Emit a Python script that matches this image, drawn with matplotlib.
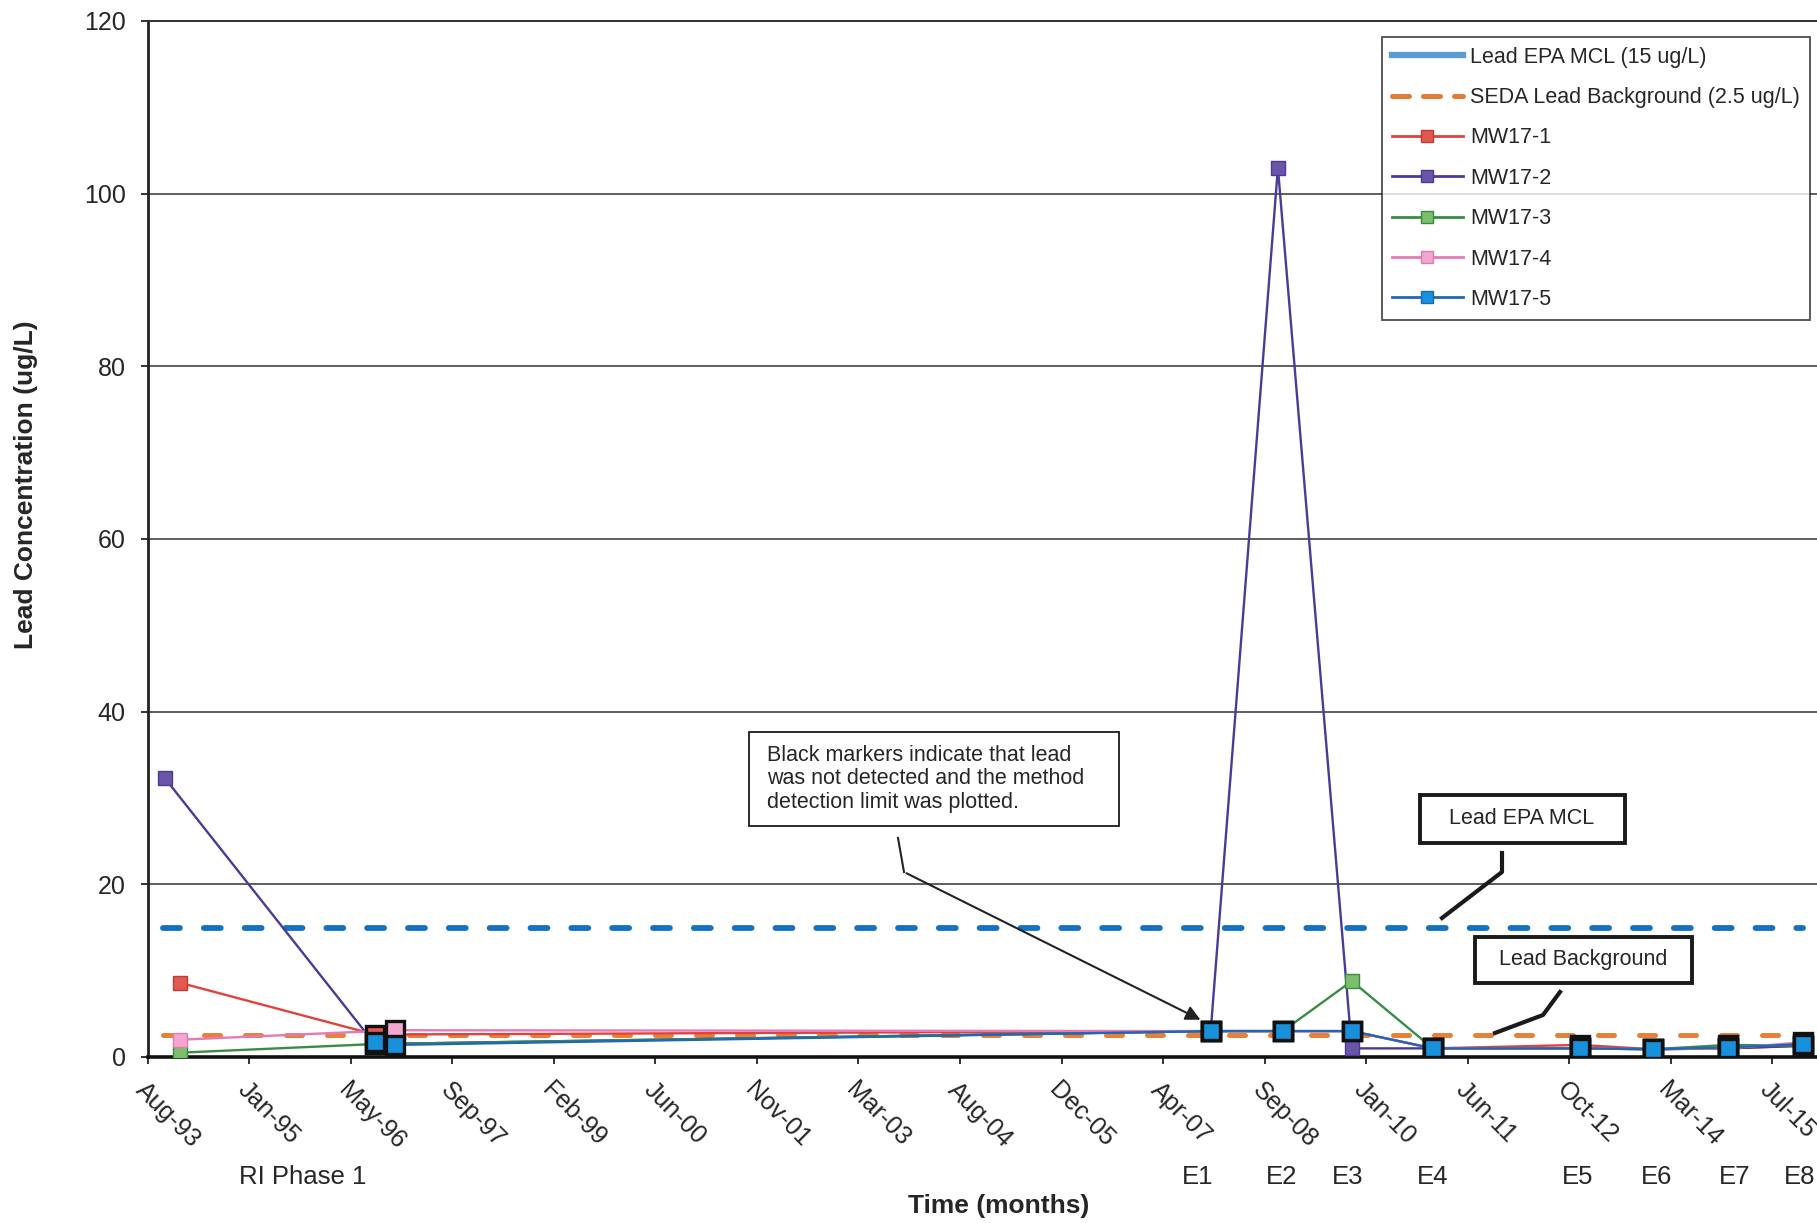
import matplotlib
matplotlib.use('Agg')
import matplotlib.pyplot as plt
import matplotlib.transforms as mtransforms
from matplotlib.lines import Line2D
from matplotlib.patches import Rectangle, FancyArrowPatch
import numpy as np
import pandas as pd

plt.rcParams['font.family'] = ['Liberation Sans', 'DejaVu Sans']
TXT = '#262626'

# ---------------- data ----------------
axis_start = '1993-08-20'
tick_step_days = 500
axis_span_days = 8300
tick_labels = ['Aug-93', 'Jan-95', 'May-96', 'Sep-97', 'Feb-99', 'Jun-00', 'Nov-01',
               'Mar-03', 'Aug-04', 'Dec-05', 'Apr-07', 'Sep-08', 'Jan-10', 'Jun-11',
               'Oct-12', 'Mar-14', 'Jul-15']
y_ticks = [0, 20, 40, 60, 80, 100, 120]

mcl_value = 15.0
bg_value = 2.5
ref_line_dates = ['1993-11-01', '2015-12-15']

mw17_1_dates = ['1994-01-24', '1996-09-10', '2007-12-20', '2008-12-09', '2009-11-14',
                '2010-12-18', '2012-12-11', '2013-12-06', '2014-12-10', '2015-12-15']
mw17_1_values = [8.6, 2.6, 3.0, 3.0, 3.0, 1.0, 1.4, 0.9, 1.0, 1.3]
mw17_1_nd = [0, 1, 1, 1, 1, 1, 1, 1, 1, 1]

mw17_2_dates = ['1993-11-11', '1996-09-10', '2007-12-20', '2008-11-15', '2009-11-14',
                '2010-12-18', '2012-12-11', '2013-12-06', '2014-12-10', '2015-12-15']
mw17_2_values = [32.3, 1.5, 3.0, 103.0, 1.0, 1.0, 1.0, 0.9, 1.0, 1.3]
mw17_2_nd = [0, 1, 1, 0, 0, 1, 1, 1, 1, 1]

mw17_3_dates = ['1994-01-24', '1996-09-10', '2007-12-20', '2008-12-09', '2009-11-14',
                '2010-12-18', '2012-12-11', '2013-12-06', '2014-12-10', '2015-12-15']
mw17_3_values = [0.5, 1.5, 3.0, 3.0, 8.8, 1.0, 1.0, 0.9, 1.4, 1.3]
mw17_3_nd = [0, 1, 1, 1, 0, 1, 1, 1, 1, 1]

mw17_4_dates = ['1994-01-24', '1996-12-18', '2007-12-20', '2008-12-09', '2009-11-14',
                '2010-12-18', '2012-12-11', '2013-12-06', '2014-12-10', '2015-12-15']
mw17_4_values = [2.0, 3.1, 3.0, 3.0, 3.0, 1.0, 1.0, 0.9, 1.0, 1.7]
mw17_4_nd = [0, 1, 1, 1, 1, 1, 1, 1, 1, 1]

mw17_5_dates = ['1996-09-10', '1996-12-18', '2007-12-20', '2008-12-09', '2009-11-14',
                '2010-12-18', '2012-12-11', '2013-12-06', '2014-12-10', '2015-12-15']
mw17_5_values = [1.7, 1.4, 3.0, 3.0, 3.0, 1.0, 1.0, 0.9, 1.1, 1.5]
mw17_5_nd = [1, 1, 1, 1, 1, 1, 1, 1, 1, 1]

series_names = ['MW17-1', 'MW17-2', 'MW17-3', 'MW17-4', 'MW17-5']

phase_labels = ['RI Phase 1', 'E1', 'E2', 'E3', 'E4', 'E5', 'E6', 'E7', 'E8']
phase_label_dates = ['1995-09-21', '2007-10-17', '2008-12-04', '2009-10-25', '2010-12-18',
                     '2012-12-01', '2013-12-25', '2015-01-14', '2015-11-30']

# ---------------- styles ----------------
line_colors = ['#E0423E', '#4B3A96', '#3A8C44', '#E57AB6', '#1F68B8']
face_colors = ['#E05A52', '#6A55A8', '#7DBE6C', '#F3A6CF', '#1890DC']
edge_colors = ['#C03A36', '#4B3A96', '#3A8C44', '#D880B0', '#1F68B8']

W, H = 1817, 1223
fig = plt.figure(figsize=(W / 100, H / 100), dpi=100)
fig.patch.set_facecolor('white')

px_per_day = 0.203
ax = fig.add_axes([148 / W, 1 - 1057 / H, axis_span_days * px_per_day / W, (1057 - 21) / H])

base = pd.Timestamp(axis_start).to_pydatetime()
ax.set_xlim(base, base + pd.Timedelta(days=axis_span_days).to_pytimedelta())
ticks = [base + pd.Timedelta(days=tick_step_days * k).to_pytimedelta() for k in range(len(tick_labels))]
ax.set_xticks(ticks)
ax.set_xticklabels(tick_labels, rotation=-45, ha='left', va='top', rotation_mode='anchor',
                   fontsize=18, color=TXT)
ax.set_ylim(0, 120)
ax.set_yticks(y_ticks)
ax.set_yticklabels([str(v) for v in y_ticks], fontsize=18, color=TXT)
ax.tick_params(axis='x', direction='out', length=5, width=1.3, pad=10, color='#222')
ax.tick_params(axis='y', direction='out', length=5, width=1.3, pad=11, color='#222')
ax.yaxis.grid(True, color='#333333', lw=1.1)
ax.set_axisbelow(True)
ax.spines['right'].set_visible(False)
ax.spines['top'].set_linewidth(1.4)
ax.spines['top'].set_color('#333')
ax.spines['left'].set_linewidth(2.0)
ax.spines['left'].set_color('#222')
ax.spines['bottom'].set_linewidth(2.6)
ax.spines['bottom'].set_color('#111')

# reference lines
ref_d = pd.to_datetime(ref_line_dates).to_pydatetime()
ax.plot(ref_d, [mcl_value, mcl_value], color='#1572C2', lw=4.2, dashes=(2.9, 4.1),
        dash_capstyle='round', zorder=3)
ax.plot(ref_d, [bg_value, bg_value], color='#E8803A', lw=3.6, dashes=(3.2, 5.0),
        dash_capstyle='round', zorder=3)

all_dates = [mw17_1_dates, mw17_2_dates, mw17_3_dates, mw17_4_dates, mw17_5_dates]
all_vals = [mw17_1_values, mw17_2_values, mw17_3_values, mw17_4_values, mw17_5_values]
all_nd = [mw17_1_nd, mw17_2_nd, mw17_3_nd, mw17_4_nd, mw17_5_nd]

for i in range(5):
    d = np.array(pd.to_datetime(all_dates[i]).to_pydatetime())
    v = np.array(all_vals[i], dtype=float)
    nd = np.array(all_nd[i], dtype=bool)
    ax.plot(d, v, color=line_colors[i], lw=1.7, zorder=5 + i)
    ax.plot(d[~nd], v[~nd], ls='none', marker='s', ms=10.5, mfc=face_colors[i],
            mec=edge_colors[i], mew=1.0, zorder=12 + i)
    ax.plot(d[nd], v[nd], ls='none', marker='s', ms=13.5, mfc=face_colors[i],
            mec='#111111', mew=2.4, zorder=12 + i)

# phase labels under the axis
trans = mtransforms.blended_transform_factory(ax.transData, ax.transAxes)
for lab, dt in zip(phase_labels, phase_label_dates):
    ax.text(pd.Timestamp(dt).to_pydatetime(), -0.1158, lab, transform=trans,
            ha='center', va='center', fontsize=18.5, color=TXT)

# axis titles
fig.text(999 / W, 1 - 1206 / H, 'Time (months)', ha='center', va='center',
         fontsize=19, fontweight='bold', color=TXT)
fig.text(26 / W, 1 - 485 / H, 'Lead Concentration (ug/L)', ha='center', va='center',
         rotation=90, fontsize=19, fontweight='bold', color=TXT)

# legend
handles = [Line2D([], [], color='#5B9BD5', lw=4.5),
           Line2D([], [], color='#E07B39', lw=3.6, dashes=(3.4, 2.8), dash_capstyle='round')]
for i in range(5):
    handles.append(Line2D([], [], color=line_colors[i], lw=2.0, marker='s', ms=9,
                          mfc=face_colors[i], mec=edge_colors[i]))
labels = ['Lead EPA MCL (15 ug/L)', 'SEDA Lead Background (2.5 ug/L)'] + series_names
leg = fig.legend(handles, labels, loc='upper right', bbox_to_anchor=(1810 / W, 1 - 37 / H),
                 frameon=True, fancybox=False, edgecolor='#222', fontsize=15.5,
                 handlelength=3.3, handletextpad=0.35, labelspacing=0.9,
                 borderpad=0.45, borderaxespad=0)
leg.get_frame().set_linewidth(1.3)
for t in leg.get_texts():
    t.set_color(TXT)


def fx(px):
    return px / W


def fy(py):
    return 1 - py / H


def box(x0, y0, x1, y1, lw):
    fig.add_artist(Rectangle((fx(x0), fy(y1)), fx(x1) - fx(x0), fy(y0) - fy(y1),
                             transform=fig.transFigure, facecolor='white',
                             edgecolor='#1a1a1a', lw=lw, zorder=20))


# note box
box(749, 732, 1119, 826, 1.3)
fig.text(fx(767), fy(779), 'Black markers indicate that lead\nwas not detected and the method\n'
         'detection limit was plotted.', ha='left', va='center', fontsize=15.5,
         linespacing=1.17, color=TXT, zorder=21)
fig.add_artist(Line2D([fx(898), fx(904)], [fy(838), fy(872)], transform=fig.transFigure,
                      color='#222', lw=1.5, zorder=20))
fig.add_artist(FancyArrowPatch((fx(904), fy(872)), (fx(1203), fy(1021)),
                               transform=fig.transFigure, arrowstyle='-|>',
                               mutation_scale=22, lw=1.5, color='#222', zorder=20))

# MCL label box
box(1420, 795, 1625, 843, 2.8)
fig.text(fx(1522), fy(819), 'Lead EPA MCL', ha='center', va='center', fontsize=15.5,
         color=TXT, zorder=21)
fig.add_artist(Line2D([fx(1502), fx(1502), fx(1442)], [fy(853), fy(872), fy(918)],
                      transform=fig.transFigure, color='#1a1a1a', lw=3.0, zorder=20))

# Background label box
box(1475, 937, 1692, 983, 2.8)
fig.text(fx(1583), fy(960), 'Lead Background', ha='center', va='center', fontsize=15.5,
         color=TXT, zorder=21)
fig.add_artist(Line2D([fx(1560), fx(1543), fx(1495)], [fy(992), fy(1015), fy(1033)],
                      transform=fig.transFigure, color='#1a1a1a', lw=3.0, zorder=20))

fig.savefig('out.png', dpi=100, facecolor='white')
